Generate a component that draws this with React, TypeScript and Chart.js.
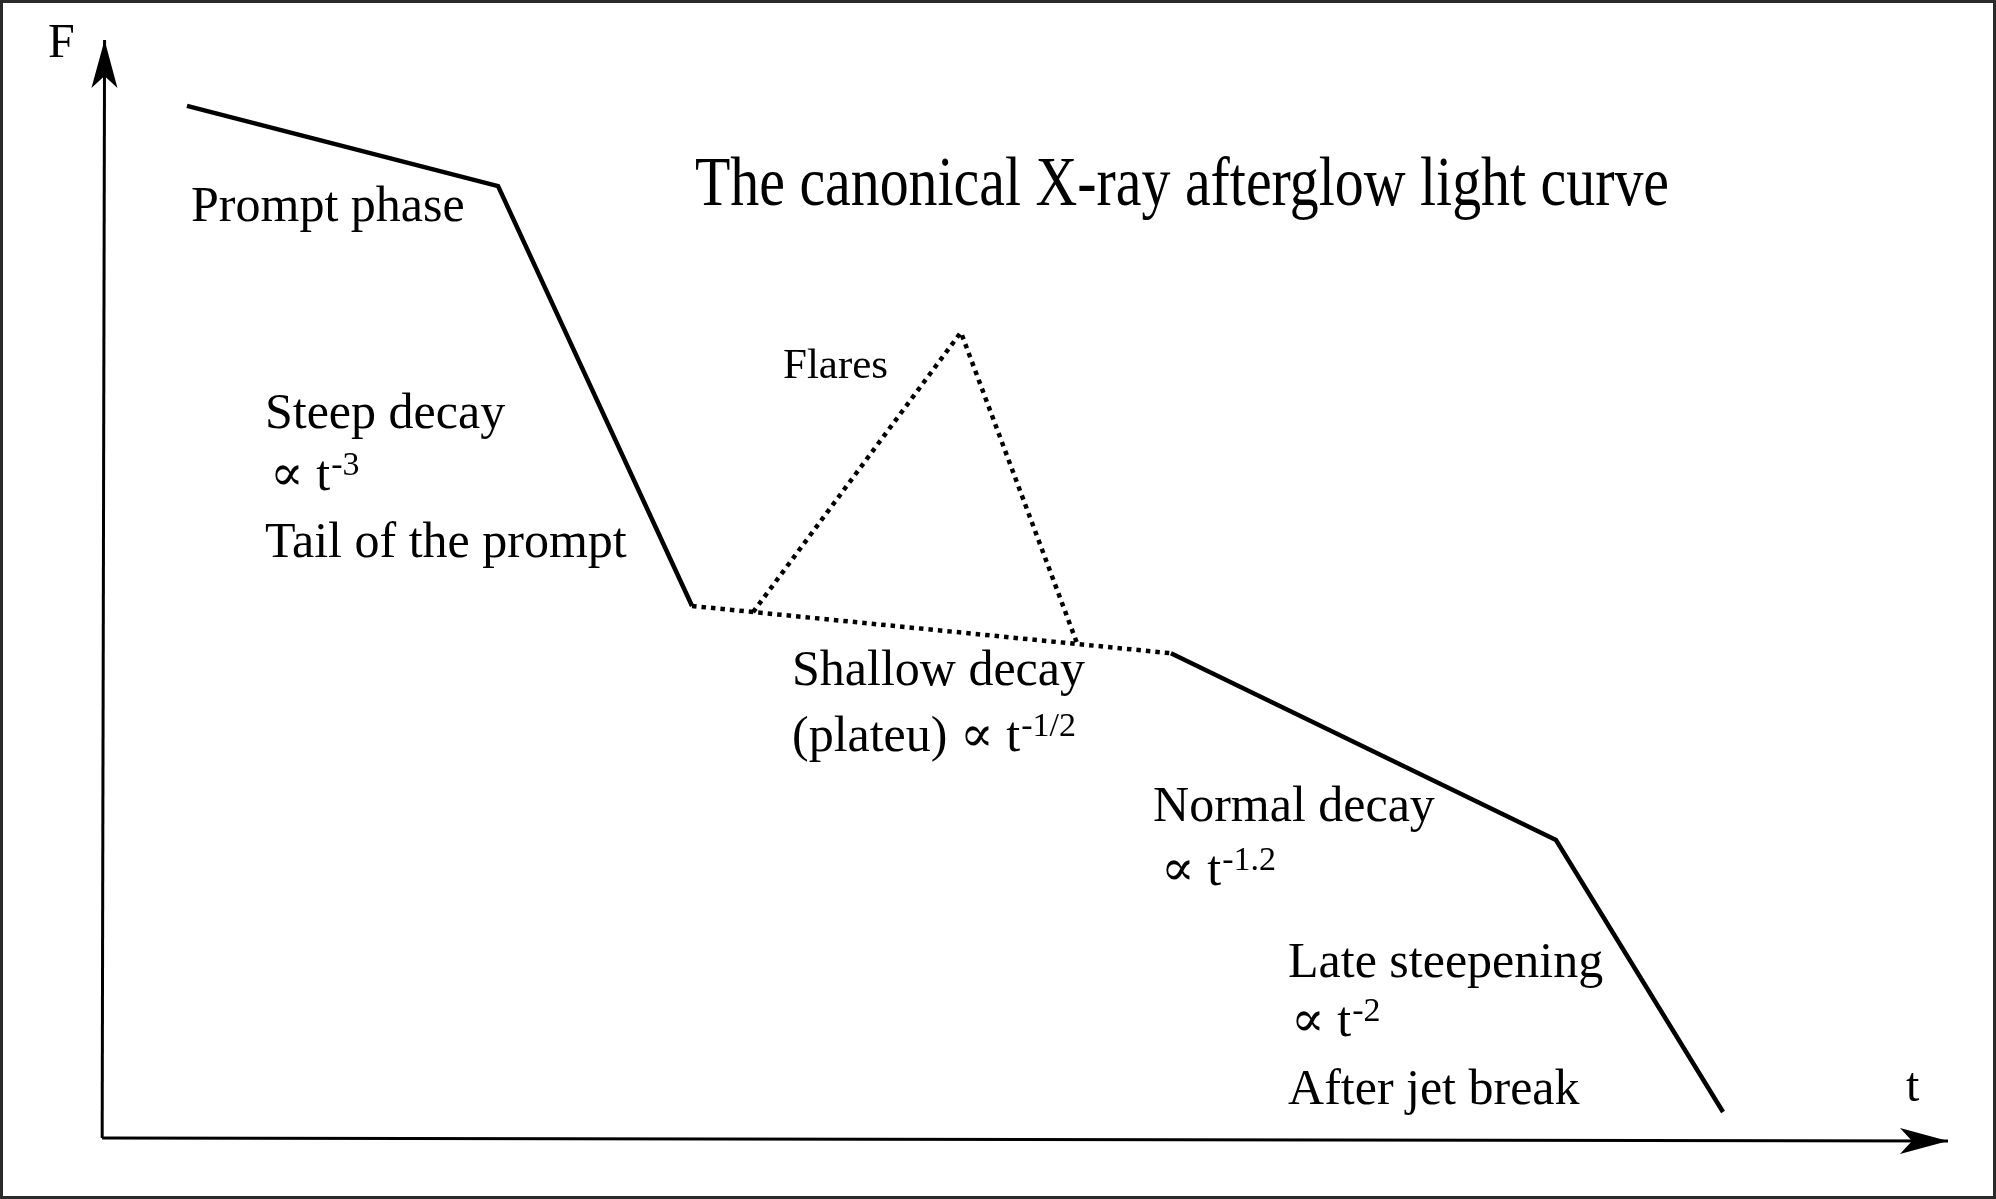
import React, { useEffect, useRef } from "react";
import { Chart, registerables } from "chart.js";

Chart.register(...registerables);

// Schematic units: t runs 0..100 along the time axis, F runs 0..100 along the flux axis.

// Prompt phase + steep decay (solid)
const earlyT = [4.5, 21.37, 31.89];
const earlyF = [94.0, 86.7, 48.5];

// Shallow decay / plateau (dotted)
const plateauT = [31.89, 57.86];
const plateauF = [48.5, 44.2];

// Flare (dotted)
const flareT = [35.2, 46.47, 52.77];
const flareF = [47.95, 73.4, 45.1];

// Normal decay + late steepening (solid)
const lateT = [57.86, 78.74, 87.8];
const lateF = [44.2, 27.2, 2.46];

// Axes
const timeAxisT = [-0.1, 100];
const timeAxisF = [0.1, -0.18];
const fluxAxisT = [-0.1, 0.03];
const fluxAxisF = [0.1, 100];

// Text annotations (anchor in chart units)
type Seg = { text: string; sup?: boolean };
type Label = { t: number; f: number; size: number; segs: Seg[]; width?: number };

const labels: Label[] = [
  { t: -3.04, f: 98.45, size: 48, segs: [{ text: "F" }] },
  { t: 97.72, f: 3.46, size: 48, segs: [{ text: "t" }] },
  { t: 32.05, f: 84.99, size: 69, width: 974, segs: [{ text: "The canonical X-ray afterglow light curve" }] },
  { t: 4.72, f: 83.53, size: 50, segs: [{ text: "Prompt phase" }] },
  { t: 36.82, f: 69.25, size: 43, segs: [{ text: "Flares" }] },
  { t: 8.73, f: 64.7, size: 50, segs: [{ text: "Steep decay" }] },
  { t: 9.0, f: 59.05, size: 50, segs: [{ text: "\u221D t" }, { text: "-3", sup: true }] },
  { t: 8.73, f: 52.96, size: 50, segs: [{ text: "Tail of the prompt" }] },
  { t: 37.31, f: 41.31, size: 50, segs: [{ text: "Shallow decay" }] },
  { t: 37.31, f: 35.3, size: 50, segs: [{ text: "(plateu) \u221D t" }, { text: "-1/2", sup: true }] },
  { t: 56.89, f: 28.94, size: 50, segs: [{ text: "Normal decay" }] },
  { t: 57.32, f: 23.1, size: 50, segs: [{ text: "\u221D t" }, { text: "-1.2", sup: true }] },
  { t: 64.21, f: 14.74, size: 50, segs: [{ text: "Late steepening" }] },
  { t: 64.37, f: 9.37, size: 50, segs: [{ text: "\u221D t" }, { text: "-2", sup: true }] },
  { t: 64.21, f: 3.18, size: 50, segs: [{ text: "After jet break" }] },
];

const W = 1996;
const H = 1199;
const FONT = "'Liberation Serif', 'Times New Roman', 'DejaVu Serif', serif";

const pts = (xs: number[], ys: number[]) => xs.map((x, i) => ({ x, y: ys[i] }));

const overlayPlugin = {
  id: "overlay",
  beforeDraw(chart: any) {
    const ctx = chart.ctx;
    ctx.save();
    ctx.fillStyle = "#ffffff";
    ctx.fillRect(0, 0, chart.width, chart.height);
    ctx.restore();
  },
  afterDatasetsDraw(chart: any) {
    const ctx: CanvasRenderingContext2D = chart.ctx;
    const xs = chart.scales.x;
    const ys = chart.scales.y;

    // arrow heads on the two axis datasets
    [0, 1].forEach((di) => {
      const meta = chart.getDatasetMeta(di);
      const n = meta.data.length;
      const a = meta.data[n - 2];
      const b = meta.data[n - 1];
      let dx = b.x - a.x;
      let dy = b.y - a.y;
      const len = Math.hypot(dx, dy);
      dx /= len;
      dy /= len;
      const nx = -dy;
      const ny = dx;
      const L = 48, HW = 13, NOTCH = 36;
      ctx.save();
      ctx.fillStyle = "#000";
      ctx.beginPath();
      ctx.moveTo(b.x, b.y);
      ctx.lineTo(b.x - L * dx + HW * nx, b.y - L * dy + HW * ny);
      ctx.lineTo(b.x - NOTCH * dx, b.y - NOTCH * dy);
      ctx.lineTo(b.x - L * dx - HW * nx, b.y - L * dy - HW * ny);
      ctx.closePath();
      ctx.fill();
      ctx.restore();
    });

    // text labels
    labels.forEach((lb) => {
      const px = xs.getPixelForValue(lb.t);
      const py = ys.getPixelForValue(lb.f);
      ctx.save();
      ctx.fillStyle = "#000";
      ctx.textBaseline = "alphabetic";
      ctx.textAlign = "left";
      ctx.translate(px, py);
      if (lb.width) {
        ctx.font = `${lb.size}px ${FONT}`;
        const w = ctx.measureText(lb.segs.map((s) => s.text).join("")).width;
        ctx.scale(lb.width / w, 1);
      }
      let x = 0;
      lb.segs.forEach((s) => {
        const size = s.sup ? Math.round(lb.size * 0.68) : lb.size;
        ctx.font = `${size}px ${FONT}`;
        const y = s.sup ? -lb.size * 0.3 : 0;
        ctx.fillText(s.text, x, y);
        x += ctx.measureText(s.text).width + (s.sup ? 0 : 1);
      });
      ctx.restore();
    });

    // frame
    ctx.save();
    ctx.strokeStyle = "#2b2b2b";
    ctx.lineWidth = 3;
    ctx.strokeRect(1.5, 1.5, chart.width - 3, chart.height - 3);
    ctx.restore();
  },
};

export default function App() {
  const ref = useRef<HTMLCanvasElement | null>(null);

  useEffect(() => {
    document.body.style.margin = "0";
    document.body.style.overflow = "hidden";
    const canvas = ref.current;
    if (!canvas) return;

    const solid = { borderColor: "#000", borderWidth: 4.5, borderCapStyle: "butt", borderJoinStyle: "miter" };
    const dotted = { borderColor: "#000", borderWidth: 4.5, borderDash: [4.5, 5], borderCapStyle: "butt", borderJoinStyle: "miter" };
    const axis = { borderColor: "#000", borderWidth: 3, borderCapStyle: "butt", borderJoinStyle: "miter" };

    const chart = new Chart(canvas, {
      type: "scatter",
      data: {
        datasets: [
          { label: "time axis", data: pts(timeAxisT, timeAxisF), ...axis },
          { label: "flux axis", data: pts(fluxAxisT, fluxAxisF), ...axis },
          { label: "prompt + steep decay", data: pts(earlyT, earlyF), ...solid },
          { label: "plateau", data: pts(plateauT, plateauF), ...dotted },
          { label: "flare", data: pts(flareT, flareF), ...dotted },
          { label: "normal + late decay", data: pts(lateT, lateF), ...solid },
        ].map((d: any) => ({ ...d, showLine: true, pointRadius: 0, pointHoverRadius: 0, fill: false, tension: 0 })),
      },
      options: {
        responsive: false,
        animation: false,
        devicePixelRatio: 1,
        events: [],
        layout: { padding: 0 },
        plugins: { legend: { display: false }, tooltip: { enabled: false }, title: { display: false } },
        scales: {
          x: { type: "linear", min: -5.64, max: 102.603, display: false },
          y: { type: "linear", min: -5.459, max: 103.64, display: false },
        },
      },
      plugins: [overlayPlugin],
    } as any);

    return () => chart.destroy();
  }, []);

  return (
    <canvas
      ref={ref}
      width={W}
      height={H}
      style={{ display: "block", width: W + "px", height: H + "px" }}
    />
  );
}
